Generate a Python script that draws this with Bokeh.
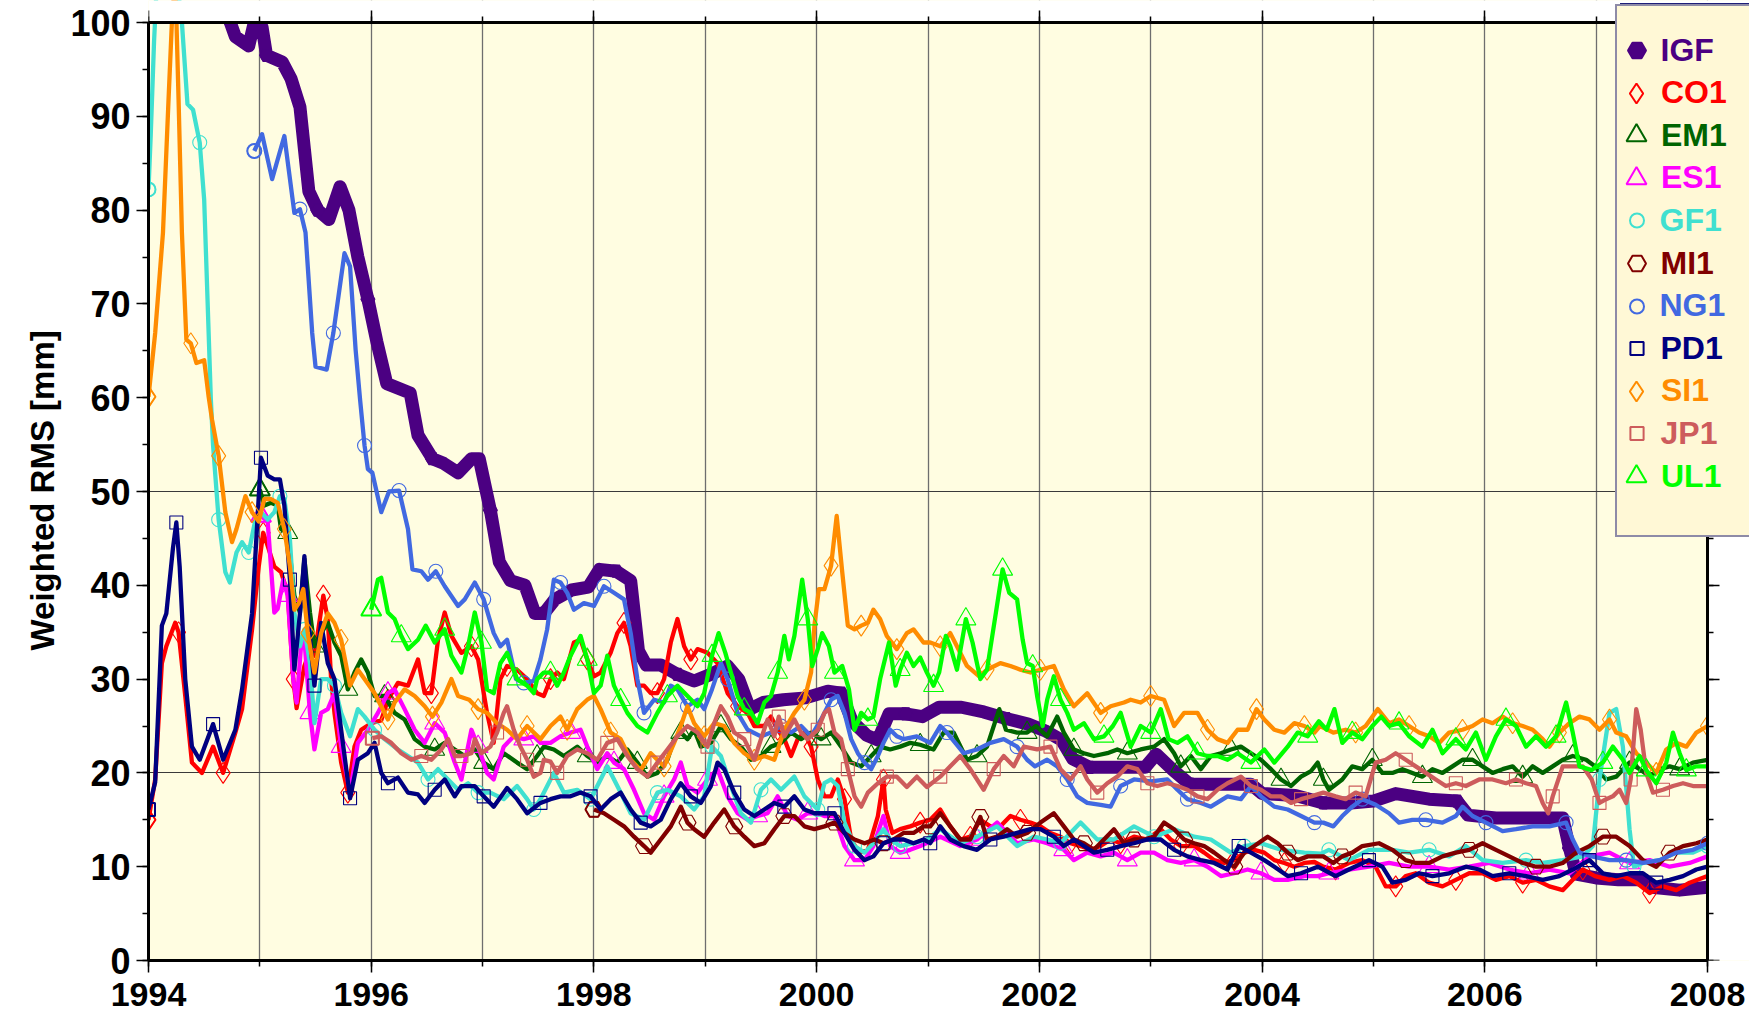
from bokeh.plotting import figure
from bokeh.models import (Legend, LegendItem, LinearAxis, SingleIntervalTicker,
                          FixedTicker, Range1d, Title)
from bokeh.embed import file_html
from bokeh.resources import INLINE

# ---------------- data (year, weighted RMS in mm) ----------------
IGF = [(1994.72, 100.5), (1994.78, 98.5), (1994.90, 97.5), (1994.96, 100.5), (1995.02, 99.5),
       (1995.06, 96.5), (1995.20, 95.8), (1995.28, 94.0), (1995.36, 91.0), (1995.44, 82.0),
       (1995.52, 80.0), (1995.62, 79.0), (1995.72, 82.5), (1995.80, 80.0), (1995.88, 75.0),
       (1995.97, 70.5), (1996.05, 66.0), (1996.14, 61.5), (1996.35, 60.5), (1996.42, 56.0),
       (1996.55, 53.5), (1996.65, 53.0), (1996.78, 52.0), (1996.90, 53.5), (1996.97, 53.5),
       (1997.07, 48.0), (1997.15, 42.5), (1997.25, 40.5), (1997.38, 40.0), (1997.47, 37.0),
       (1997.55, 37.0), (1997.65, 38.5), (1997.80, 39.5), (1997.95, 39.8), (1998.05, 41.7),
       (1998.20, 41.5), (1998.33, 40.5), (1998.40, 33.0), (1998.47, 31.5), (1998.60, 31.5),
       (1998.75, 30.5), (1998.90, 29.8), (1999.05, 30.5), (1999.20, 31.4), (1999.30, 30.0),
       (1999.40, 26.8), (1999.52, 27.5), (1999.70, 27.8), (1999.90, 28.0), (2000.10, 28.7),
       (2000.22, 28.5), (2000.32, 25.5), (2000.45, 24.0), (2000.55, 23.5), (2000.65, 26.3),
       (2000.80, 26.3), (2000.95, 26.0), (2001.10, 27.0), (2001.30, 27.0), (2001.50, 26.5),
       (2001.70, 25.8), (2001.90, 25.2), (2002.05, 24.5), (2002.20, 23.5), (2002.30, 21.5),
       (2002.45, 20.6), (2002.70, 20.6), (2002.95, 20.6), (2003.05, 22.0), (2003.20, 20.3),
       (2003.35, 18.8), (2003.60, 18.8), (2003.90, 18.8), (2004.00, 17.8), (2004.30, 17.6),
       (2004.55, 16.8), (2004.80, 16.8), (2005.00, 17.0), (2005.20, 17.8), (2005.50, 17.2),
       (2005.75, 17.0), (2005.85, 15.5), (2006.10, 15.2), (2006.40, 15.2), (2006.70, 15.2),
       (2006.76, 12.0), (2006.82, 9.2), (2007.00, 8.8), (2007.20, 8.6), (2007.40, 8.6),
       (2007.50, 7.8), (2007.75, 7.5), (2008.00, 7.8)]

CO1 = [(1994.00, 15.0), (1994.06, 19.3), (1994.12, 31.7), (1994.16, 33.5), (1994.24, 36.0),
       (1994.27, 35.0), (1994.33, 28.2), (1994.39, 21.1), (1994.48, 20.0), (1994.58, 22.8),
       (1994.67, 20.0), (1994.78, 24.3), (1994.84, 26.8), (1994.93, 35.3), (1994.99, 42.0),
       (1995.03, 45.6), (1995.07, 44.2), (1995.13, 42.0), (1995.19, 41.4), (1995.25, 39.2),
       (1995.30, 30.0), (1995.33, 26.9), (1995.40, 31.4), (1995.45, 33.0), (1995.49, 32.5),
       (1995.57, 38.9), (1995.61, 36.4), (1995.64, 30.0), (1995.67, 26.4), (1995.73, 21.1),
       (1995.79, 17.9), (1995.85, 22.8), (1995.91, 24.6), (1996.00, 25.3), (1996.09, 25.6),
       (1996.15, 27.8), (1996.24, 29.6), (1996.33, 29.3), (1996.42, 32.1), (1996.48, 28.5),
       (1996.54, 28.5), (1996.60, 34.2), (1996.66, 37.1), (1996.72, 34.6), (1996.81, 32.8),
       (1996.90, 33.5), (1996.96, 32.1), (1997.04, 26.4), (1997.10, 23.2), (1997.16, 30.0),
       (1997.22, 31.4), (1997.31, 31.0), (1997.40, 30.0), (1997.49, 28.5), (1997.55, 28.2),
       (1997.61, 30.0), (1997.67, 30.7), (1997.73, 30.0), (1997.82, 33.9), (1997.88, 34.2),
       (1997.94, 32.1), (1998.00, 30.3), (1998.06, 30.7), (1998.15, 32.8), (1998.21, 34.9),
       (1998.27, 36.0), (1998.33, 33.5), (1998.39, 29.3), (1998.45, 29.3), (1998.51, 28.5),
       (1998.57, 28.5), (1998.63, 30.0), (1998.69, 33.9), (1998.75, 36.4), (1998.81, 33.5),
       (1998.87, 32.1), (1998.93, 33.2), (1999.02, 32.8), (1999.11, 31.7), (1999.20, 28.5),
       (1999.29, 27.1), (1999.38, 26.4), (1999.44, 25.0), (1999.53, 25.0), (1999.59, 26.0),
       (1999.65, 24.6), (1999.71, 23.6), (1999.77, 21.8), (1999.83, 23.6), (1999.89, 24.3),
       (1999.95, 22.8), (2000.01, 19.3), (2000.07, 17.5), (2000.13, 17.5), (2000.19, 19.3),
       (2000.25, 17.2), (2000.31, 12.9), (2000.38, 11.5), (2000.46, 11.8), (2000.55, 15.4),
       (2000.60, 19.3), (2000.62, 16.1), (2000.68, 13.6), (2000.75, 14.0), (2000.84, 14.3),
       (2000.93, 14.7), (2001.02, 15.0), (2001.11, 16.1), (2001.20, 14.3), (2001.29, 12.9),
       (2001.38, 13.2), (2001.47, 15.0), (2001.56, 14.3), (2001.65, 14.3), (2001.74, 15.4),
       (2001.83, 15.0), (2001.92, 14.7), (2002.01, 14.3), (2002.10, 13.6), (2002.19, 13.2),
       (2002.28, 12.5), (2002.37, 12.2), (2002.46, 11.8), (2002.55, 12.2), (2002.64, 12.9),
       (2002.73, 12.5), (2002.85, 13.2), (2002.97, 12.9), (2003.09, 14.0), (2003.18, 12.9),
       (2003.27, 12.2), (2003.39, 12.2), (2003.48, 11.5), (2003.57, 10.7), (2003.66, 10.4),
       (2003.75, 10.7), (2003.84, 11.5), (2003.93, 11.8), (2004.02, 11.5), (2004.11, 10.7),
       (2004.20, 10.4), (2004.29, 10.0), (2004.38, 10.4), (2004.47, 10.5), (2004.55, 10.0),
       (2004.66, 9.7), (2004.78, 10.4), (2004.90, 10.7), (2005.02, 10.0), (2005.11, 7.9),
       (2005.20, 7.9), (2005.29, 9.0), (2005.38, 9.3), (2005.50, 8.3), (2005.62, 7.9),
       (2005.74, 8.6), (2005.86, 9.3), (2005.98, 9.3), (2006.10, 8.6), (2006.22, 9.0),
       (2006.34, 8.3), (2006.46, 8.6), (2006.58, 7.9), (2006.70, 7.5), (2006.79, 8.6),
       (2006.88, 9.7), (2006.99, 9.0), (2007.12, 8.6), (2007.24, 9.0), (2007.36, 8.3),
       (2007.48, 7.2), (2007.60, 7.9), (2007.72, 7.5), (2007.84, 8.3), (2008.00, 9.0)]

EM1 = [(1995.00, 50.2), (1995.04, 48.5), (1995.10, 48.8), (1995.16, 48.5), (1995.19, 46.0),
       (1995.25, 45.6), (1995.31, 38.9), (1995.36, 37.1), (1995.40, 42.8), (1995.45, 37.1),
       (1995.49, 33.5), (1995.55, 34.9), (1995.61, 36.0), (1995.67, 33.9), (1995.73, 32.5),
       (1995.79, 28.9), (1995.85, 30.7), (1995.91, 32.1), (1995.97, 30.7), (1996.03, 28.2),
       (1996.12, 28.2), (1996.21, 26.4), (1996.30, 25.7), (1996.39, 23.6), (1996.48, 22.8),
       (1996.57, 22.5), (1996.66, 23.2), (1996.75, 22.5), (1996.84, 21.8), (1996.93, 22.5),
       (1997.01, 21.1), (1997.10, 20.4), (1997.19, 22.1), (1997.31, 21.1), (1997.40, 20.4),
       (1997.49, 21.8), (1997.55, 22.8), (1997.64, 22.5), (1997.73, 21.8), (1997.85, 22.8),
       (1997.94, 21.8), (1998.03, 21.1), (1998.12, 21.8), (1998.21, 21.1), (1998.30, 22.5),
       (1998.39, 21.1), (1998.48, 19.6), (1998.57, 20.0), (1998.66, 21.4), (1998.72, 23.6),
       (1998.78, 24.3), (1998.84, 23.6), (1998.90, 24.6), (1998.96, 22.8), (1999.05, 23.2),
       (1999.14, 25.0), (1999.23, 23.6), (1999.32, 22.8), (1999.41, 21.4), (1999.50, 21.8),
       (1999.59, 22.8), (1999.68, 23.2), (1999.77, 24.3), (1999.86, 23.6), (1999.95, 24.3),
       (2000.04, 23.6), (2000.13, 24.3), (2000.22, 22.8), (2000.31, 21.1), (2000.40, 20.7),
       (2000.49, 21.8), (2000.57, 22.8), (2000.66, 22.5), (2000.75, 22.8), (2000.84, 23.2),
       (2000.93, 23.0), (2001.05, 22.5), (2001.14, 24.3), (2001.23, 24.3), (2001.35, 21.4),
       (2001.44, 21.8), (2001.53, 22.8), (2001.64, 26.8), (2001.70, 24.6), (2001.80, 24.3),
       (2001.89, 24.3), (2001.97, 25.0), (2002.07, 23.9), (2002.16, 26.0), (2002.22, 24.3),
       (2002.31, 22.5), (2002.40, 22.1), (2002.49, 21.8), (2002.61, 22.1), (2002.70, 22.5),
       (2002.79, 22.1), (2002.91, 22.5), (2003.03, 22.8), (2003.12, 23.6), (2003.21, 22.1),
       (2003.27, 20.7), (2003.36, 21.8), (2003.45, 20.4), (2003.54, 21.8), (2003.63, 22.1),
       (2003.72, 22.5), (2003.81, 22.8), (2003.90, 22.1), (2003.99, 21.4), (2004.08, 20.4),
       (2004.17, 19.3), (2004.26, 18.6), (2004.35, 19.6), (2004.44, 20.2), (2004.50, 21.1),
       (2004.55, 19.3), (2004.60, 18.2), (2004.72, 19.3), (2004.81, 20.7), (2004.90, 20.4),
       (2004.99, 21.4), (2005.08, 20.0), (2005.17, 20.0), (2005.26, 20.4), (2005.35, 20.0),
       (2005.44, 19.6), (2005.53, 20.4), (2005.62, 20.0), (2005.71, 20.7), (2005.80, 21.4),
       (2005.89, 21.4), (2005.98, 20.7), (2006.07, 20.0), (2006.16, 20.4), (2006.25, 20.7),
       (2006.34, 19.6), (2006.43, 20.7), (2006.52, 20.0), (2006.61, 20.7), (2006.70, 21.4),
       (2006.79, 21.8), (2006.91, 21.4), (2006.99, 20.7), (2007.09, 19.3), (2007.18, 19.6),
       (2007.30, 21.1), (2007.39, 20.4), (2007.48, 19.6), (2007.57, 20.4), (2007.66, 20.7),
       (2007.75, 20.4), (2007.87, 21.1), (2008.00, 21.4)]

ES1 = [(1995.01, 47.4), (1995.07, 46.8), (1995.13, 37.1), (1995.16, 37.5), (1995.21, 40.6),
       (1995.25, 38.9), (1995.30, 30.0), (1995.33, 27.5), (1995.37, 33.5), (1995.40, 34.2),
       (1995.45, 26.4), (1995.49, 22.5), (1995.55, 26.4), (1995.61, 26.8), (1995.67, 28.5),
       (1995.73, 22.8), (1995.81, 17.9), (1995.88, 23.2), (1995.97, 24.6), (1996.06, 26.4),
       (1996.15, 28.5), (1996.21, 28.9), (1996.30, 26.8), (1996.39, 24.6), (1996.48, 23.2),
       (1996.57, 25.3), (1996.66, 24.3), (1996.75, 21.1), (1996.81, 19.3), (1996.90, 24.6),
       (1996.96, 22.8), (1997.04, 20.0), (1997.10, 19.3), (1997.19, 22.8), (1997.28, 23.9),
       (1997.37, 23.6), (1997.46, 23.9), (1997.52, 23.2), (1997.61, 23.2), (1997.70, 23.9),
       (1997.79, 24.3), (1997.88, 24.6), (1997.94, 22.8), (1998.03, 20.4), (1998.12, 22.1),
       (1998.18, 21.1), (1998.27, 20.4), (1998.36, 18.2), (1998.45, 15.7), (1998.54, 15.0),
       (1998.63, 17.5), (1998.72, 19.3), (1998.78, 21.1), (1998.84, 18.6), (1998.93, 17.9),
       (1999.02, 19.3), (1999.11, 20.4), (1999.20, 17.5), (1999.29, 15.7), (1999.38, 15.0),
       (1999.47, 15.4), (1999.56, 15.7), (1999.65, 17.5), (1999.74, 15.4), (1999.83, 15.0),
       (1999.92, 15.7), (2000.01, 15.7), (2000.07, 15.4), (2000.16, 15.4), (2000.25, 12.2),
       (2000.34, 10.7), (2000.43, 10.7), (2000.51, 12.2), (2000.60, 15.4), (2000.66, 12.2),
       (2000.75, 11.5), (2000.84, 11.8), (2000.93, 12.2), (2001.11, 13.2), (2001.29, 12.2),
       (2001.44, 12.9), (2001.62, 14.7), (2001.80, 12.5), (2001.95, 12.9), (2002.07, 12.5),
       (2002.22, 11.8), (2002.31, 10.7), (2002.43, 11.5), (2002.55, 11.1), (2002.67, 11.5),
       (2002.79, 10.7), (2002.91, 11.5), (2003.03, 11.5), (2003.15, 10.7), (2003.27, 10.4),
       (2003.39, 10.7), (2003.51, 10.0), (2003.63, 9.0), (2003.75, 9.3), (2003.87, 9.7),
       (2003.99, 9.3), (2004.11, 8.6), (2004.23, 8.6), (2004.38, 9.0), (2004.50, 9.0),
       (2004.60, 9.3), (2004.78, 9.7), (2004.96, 10.0), (2005.14, 10.4), (2005.32, 10.0),
       (2005.50, 10.0), (2005.68, 9.7), (2005.86, 10.0), (2006.04, 10.4), (2006.22, 9.7),
       (2006.40, 9.3), (2006.58, 9.7), (2006.76, 9.3), (2006.94, 11.1), (2007.12, 11.5),
       (2007.30, 10.4), (2007.48, 10.7), (2007.66, 10.0), (2007.84, 10.4), (2008.00, 11.1)]

GF1 = [(1994.00, 82.2), (1994.02, 88.0), (1994.05, 98.0), (1994.07, 103.0), (1994.12, 106.0),
       (1994.20, 106.0), (1994.27, 103.0), (1994.30, 100.0), (1994.35, 91.3), (1994.40, 90.7),
       (1994.46, 87.2), (1994.50, 81.1), (1994.53, 70.5), (1994.56, 59.8), (1994.58, 54.9),
       (1994.63, 47.0), (1994.69, 41.4), (1994.73, 40.3), (1994.79, 43.5), (1994.84, 44.6),
       (1994.90, 43.5), (1994.96, 47.0), (1995.01, 47.8), (1995.07, 47.0), (1995.13, 47.8),
       (1995.18, 49.5), (1995.22, 49.2), (1995.27, 44.9), (1995.31, 37.1), (1995.36, 33.5),
       (1995.40, 35.3), (1995.45, 31.7), (1995.49, 25.3), (1995.55, 30.0), (1995.61, 30.0),
       (1995.67, 29.3), (1995.73, 26.4), (1995.81, 23.9), (1995.88, 26.8), (1995.94, 26.0),
       (1996.03, 24.6), (1996.12, 23.6), (1996.24, 22.5), (1996.33, 21.8), (1996.42, 21.1),
       (1996.51, 19.3), (1996.60, 20.4), (1996.69, 19.3), (1996.78, 18.2), (1996.87, 18.9),
       (1996.96, 17.9), (1997.07, 17.9), (1997.19, 17.2), (1997.31, 18.6), (1997.40, 17.2),
       (1997.46, 16.1), (1997.52, 17.2), (1997.64, 20.0), (1997.73, 17.9), (1997.85, 18.2),
       (1997.97, 17.2), (1998.12, 20.7), (1998.24, 17.9), (1998.33, 15.7), (1998.45, 15.0),
       (1998.57, 17.9), (1998.66, 18.2), (1998.78, 17.5), (1998.90, 16.1), (1998.99, 17.5),
       (1999.06, 22.8), (1999.14, 21.8), (1999.23, 18.6), (1999.32, 15.7), (1999.41, 14.7),
       (1999.50, 18.2), (1999.59, 19.3), (1999.68, 18.2), (1999.80, 19.6), (1999.89, 17.5),
       (2000.01, 16.1), (2000.07, 18.9), (2000.13, 19.3), (2000.19, 18.6), (2000.25, 14.7),
       (2000.34, 12.2), (2000.43, 11.5), (2000.51, 12.5), (2000.60, 14.0), (2000.66, 12.9),
       (2000.75, 12.2), (2000.87, 12.5), (2000.99, 12.9), (2001.11, 14.0), (2001.29, 12.5),
       (2001.44, 13.2), (2001.62, 14.3), (2001.80, 12.2), (2001.95, 13.2), (2002.07, 12.9),
       (2002.19, 12.5), (2002.37, 14.7), (2002.52, 12.9), (2002.67, 12.9), (2002.85, 14.3),
       (2003.03, 13.2), (2003.21, 14.0), (2003.39, 13.2), (2003.54, 12.9), (2003.72, 11.5),
       (2003.84, 12.2), (2003.99, 12.5), (2004.17, 11.8), (2004.38, 11.5), (2004.53, 11.4),
       (2004.60, 11.8), (2004.78, 10.7), (2004.96, 11.8), (2005.17, 11.8), (2005.32, 11.5),
       (2005.50, 11.8), (2005.68, 11.1), (2005.83, 12.2), (2005.98, 10.7), (2006.16, 10.4),
       (2006.37, 10.7), (2006.52, 10.4), (2006.70, 10.7), (2006.88, 11.1), (2006.97, 12.2),
       (2007.03, 19.3), (2007.12, 26.4), (2007.18, 26.8), (2007.24, 22.8), (2007.30, 14.0),
       (2007.34, 10.0), (2007.42, 10.4), (2007.57, 10.7), (2007.72, 11.5), (2007.87, 11.5),
       (2008.00, 12.2)]

MI1 = [(1998.00, 16.1), (1998.09, 15.7), (1998.18, 15.0), (1998.27, 14.3), (1998.36, 13.2),
       (1998.45, 12.2), (1998.51, 11.5), (1998.60, 12.9), (1998.69, 14.3), (1998.78, 16.4),
       (1998.84, 14.7), (1998.90, 14.0), (1998.99, 13.2), (1999.08, 14.7), (1999.17, 16.1),
       (1999.26, 14.3), (1999.35, 13.2), (1999.44, 12.2), (1999.53, 12.5), (1999.62, 14.0),
       (1999.71, 15.4), (1999.80, 15.4), (1999.89, 14.3), (1999.98, 14.0), (2000.07, 14.3),
       (2000.16, 14.7), (2000.25, 13.6), (2000.34, 12.9), (2000.43, 12.5), (2000.52, 12.9),
       (2000.60, 12.5), (2000.69, 12.9), (2000.78, 13.6), (2000.87, 13.6), (2000.96, 14.3),
       (2001.02, 14.3), (2001.11, 15.7), (2001.20, 14.3), (2001.29, 12.9), (2001.38, 12.9),
       (2001.47, 15.3), (2001.53, 12.9), (2001.62, 13.2), (2001.71, 14.0), (2001.80, 13.2),
       (2001.89, 13.6), (2002.01, 14.7), (2002.13, 15.7), (2002.22, 14.3), (2002.31, 12.9),
       (2002.40, 12.5), (2002.49, 11.8), (2002.58, 12.9), (2002.67, 14.0), (2002.76, 12.5),
       (2002.85, 12.9), (2002.94, 12.9), (2003.03, 13.2), (2003.12, 14.7), (2003.21, 14.0),
       (2003.30, 12.9), (2003.39, 12.5), (2003.48, 12.2), (2003.57, 11.5), (2003.66, 10.7),
       (2003.75, 10.0), (2003.84, 11.5), (2003.93, 12.2), (2004.05, 13.2), (2004.14, 12.5),
       (2004.23, 11.5), (2004.32, 10.7), (2004.41, 11.1), (2004.55, 11.1), (2004.64, 10.4),
       (2004.72, 11.1), (2004.81, 11.5), (2004.90, 12.2), (2005.05, 12.5), (2005.17, 11.8),
       (2005.29, 10.7), (2005.38, 10.4), (2005.50, 10.4), (2005.62, 11.1), (2005.74, 11.5),
       (2005.86, 11.8), (2005.98, 12.5), (2006.10, 11.8), (2006.22, 11.1), (2006.34, 10.4),
       (2006.46, 10.0), (2006.58, 10.0), (2006.70, 10.4), (2006.82, 11.5), (2006.94, 12.2),
       (2007.06, 13.2), (2007.18, 13.2), (2007.30, 12.2), (2007.42, 10.7), (2007.54, 10.0),
       (2007.66, 11.5), (2007.78, 12.2), (2007.90, 12.5), (2008.00, 12.9)]

NG1 = [(1994.95, 86.3), (1995.02, 88.1), (1995.11, 83.3), (1995.22, 87.9), (1995.31, 79.7),
       (1995.36, 80.1), (1995.41, 77.6), (1995.47, 66.9), (1995.50, 63.3), (1995.60, 63.0),
       (1995.66, 66.9), (1995.76, 75.4), (1995.81, 74.0), (1995.86, 65.1), (1995.90, 59.8),
       (1995.94, 54.9), (1995.97, 52.4), (1996.01, 52.0), (1996.09, 47.8), (1996.16, 50.0),
       (1996.25, 50.1), (1996.33, 46.0), (1996.37, 41.7), (1996.45, 41.5), (1996.51, 40.6),
       (1996.58, 41.5), (1996.66, 39.9), (1996.78, 37.8), (1996.84, 38.5), (1996.93, 40.3),
       (1997.01, 38.5), (1997.10, 34.9), (1997.16, 33.5), (1997.22, 34.2), (1997.30, 30.0),
       (1997.37, 29.6), (1997.46, 29.8), (1997.52, 32.1), (1997.58, 35.3), (1997.64, 40.6),
       (1997.70, 40.3), (1997.76, 39.2), (1997.82, 37.4), (1997.91, 38.1), (1998.00, 37.8),
       (1998.09, 39.9), (1998.18, 39.2), (1998.27, 38.5), (1998.33, 34.9), (1998.39, 30.0),
       (1998.45, 26.4), (1998.54, 27.8), (1998.63, 27.5), (1998.69, 29.3), (1998.75, 28.9),
       (1998.84, 27.1), (1998.93, 27.8), (1998.99, 26.8), (1999.06, 28.9), (1999.14, 31.7),
       (1999.20, 30.0), (1999.29, 26.4), (1999.38, 24.6), (1999.50, 23.9), (1999.59, 24.3),
       (1999.68, 25.0), (1999.77, 24.3), (1999.86, 25.0), (1999.95, 23.9), (2000.04, 25.7),
       (2000.13, 27.8), (2000.19, 28.2), (2000.25, 26.4), (2000.31, 23.6), (2000.37, 22.1),
       (2000.43, 21.1), (2000.49, 20.4), (2000.55, 21.8), (2000.60, 23.2), (2000.66, 24.6),
       (2000.72, 23.9), (2000.78, 23.6), (2000.90, 23.9), (2001.02, 23.2), (2001.11, 25.0),
       (2001.17, 24.3), (2001.32, 22.1), (2001.44, 22.5), (2001.56, 23.2), (2001.68, 23.6),
       (2001.80, 22.8), (2001.89, 21.4), (2001.96, 20.7), (2002.07, 21.4), (2002.16, 20.7),
       (2002.25, 19.3), (2002.34, 17.5), (2002.43, 16.8), (2002.55, 16.6), (2002.64, 16.4),
       (2002.73, 18.6), (2002.85, 19.3), (2003.00, 19.1), (2003.15, 19.3), (2003.24, 18.2),
       (2003.33, 17.2), (2003.45, 16.8), (2003.54, 16.4), (2003.69, 17.5), (2003.81, 17.2),
       (2003.90, 18.6), (2003.99, 17.5), (2004.11, 16.4), (2004.23, 16.1), (2004.35, 15.4),
       (2004.47, 14.7), (2004.55, 14.7), (2004.64, 14.3), (2004.72, 15.4), (2004.81, 16.4),
       (2004.90, 17.2), (2005.02, 16.6), (2005.14, 15.7), (2005.23, 14.7), (2005.35, 15.0),
       (2005.47, 15.0), (2005.62, 14.7), (2005.74, 15.4), (2005.80, 16.4), (2005.89, 15.4),
       (2006.01, 14.7), (2006.16, 13.8), (2006.28, 14.0), (2006.43, 14.3), (2006.58, 14.3),
       (2006.73, 14.7), (2006.79, 12.9), (2006.85, 11.5), (2006.96, 11.1), (2007.12, 10.7),
       (2007.27, 10.7), (2007.42, 10.4), (2007.57, 10.7), (2007.72, 11.5), (2007.87, 11.8),
       (2008.00, 12.5)]

PD1 = [(1994.00, 16.1), (1994.06, 19.0), (1994.12, 35.7), (1994.16, 37.0), (1994.22, 44.0),
       (1994.25, 46.7), (1994.28, 42.0), (1994.33, 30.0), (1994.39, 22.8), (1994.46, 21.4),
       (1994.58, 25.2), (1994.67, 21.4), (1994.78, 24.6), (1994.84, 28.9), (1994.93, 37.0),
       (1995.01, 53.6), (1995.07, 51.7), (1995.13, 51.3), (1995.18, 51.3), (1995.22, 48.5),
       (1995.27, 40.6), (1995.31, 31.0), (1995.36, 37.0), (1995.40, 43.1), (1995.43, 37.0),
       (1995.49, 29.3), (1995.55, 36.0), (1995.61, 31.7), (1995.67, 30.0), (1995.73, 24.6),
       (1995.81, 17.3), (1995.88, 21.4), (1995.97, 22.1), (1996.03, 23.2), (1996.09, 20.0),
       (1996.15, 18.9), (1996.24, 19.5), (1996.33, 17.9), (1996.42, 17.7), (1996.48, 16.8),
       (1996.57, 18.2), (1996.66, 19.3), (1996.75, 17.5), (1996.81, 18.6), (1996.93, 18.6),
       (1997.01, 17.5), (1997.10, 16.4), (1997.22, 18.4), (1997.31, 17.2), (1997.40, 15.7),
       (1997.52, 16.8), (1997.61, 17.2), (1997.70, 17.5), (1997.79, 17.5), (1997.88, 17.9),
       (1997.97, 17.5), (1998.06, 16.1), (1998.15, 17.2), (1998.24, 17.9), (1998.33, 16.1),
       (1998.42, 14.7), (1998.51, 14.3), (1998.60, 15.0), (1998.69, 17.2), (1998.78, 18.9),
       (1998.87, 17.5), (1998.96, 16.8), (1999.05, 18.6), (1999.11, 21.1), (1999.17, 20.4),
       (1999.26, 17.9), (1999.35, 16.1), (1999.44, 15.4), (1999.53, 16.1), (1999.62, 16.8),
       (1999.71, 16.4), (1999.80, 17.5), (1999.89, 16.1), (1999.98, 15.7), (2000.07, 15.7),
       (2000.16, 15.7), (2000.25, 13.6), (2000.34, 11.8), (2000.43, 10.7), (2000.51, 11.1),
       (2000.60, 12.5), (2000.69, 12.9), (2000.78, 12.9), (2000.87, 12.5), (2000.96, 12.9),
       (2001.02, 12.5), (2001.11, 14.3), (2001.20, 12.9), (2001.32, 12.2), (2001.44, 11.8),
       (2001.56, 12.9), (2001.68, 13.2), (2001.80, 13.6), (2001.92, 14.0), (2002.01, 14.0),
       (2002.13, 13.2), (2002.22, 12.2), (2002.31, 12.9), (2002.40, 12.2), (2002.49, 11.5),
       (2002.61, 11.8), (2002.73, 12.2), (2002.85, 12.5), (2002.97, 12.9), (2003.09, 12.9),
       (2003.21, 11.8), (2003.33, 11.1), (2003.45, 10.7), (2003.57, 10.4), (2003.69, 9.7),
       (2003.79, 12.2), (2003.90, 11.5), (2004.02, 10.7), (2004.11, 10.0), (2004.23, 9.0),
       (2004.35, 9.3), (2004.50, 10.0), (2004.55, 9.7), (2004.66, 9.0), (2004.78, 9.7),
       (2004.96, 10.7), (2005.08, 10.0), (2005.17, 8.3), (2005.29, 8.6), (2005.41, 9.3),
       (2005.53, 9.0), (2005.68, 9.3), (2005.83, 10.0), (2005.95, 9.7), (2006.07, 9.0),
       (2006.22, 9.3), (2006.37, 9.0), (2006.52, 8.6), (2006.67, 9.0), (2006.79, 9.7),
       (2006.94, 10.7), (2007.06, 9.3), (2007.18, 9.0), (2007.30, 9.3), (2007.42, 9.3),
       (2007.54, 8.3), (2007.66, 8.6), (2007.78, 9.0), (2007.90, 9.7), (2008.00, 10.0)]

SI1 = [(1994.00, 60.1), (1994.06, 66.9), (1994.13, 77.6), (1994.18, 91.8), (1994.21, 100.0),
       (1994.235, 104.0), (1994.25, 100.5), (1994.27, 91.8), (1994.30, 77.6), (1994.34, 66.2),
       (1994.38, 65.8), (1994.43, 63.7), (1994.50, 64.0), (1994.54, 60.1), (1994.57, 57.7),
       (1994.63, 53.8), (1994.69, 47.8), (1994.75, 44.6), (1994.79, 46.0), (1994.87, 49.5),
       (1994.93, 47.8), (1994.99, 46.8), (1995.04, 49.2), (1995.10, 49.2), (1995.16, 48.8),
       (1995.22, 46.0), (1995.27, 42.0), (1995.31, 37.4), (1995.35, 38.1), (1995.39, 39.6),
       (1995.43, 34.9), (1995.49, 30.7), (1995.55, 34.9), (1995.61, 37.0), (1995.67, 36.0),
       (1995.73, 34.2), (1995.81, 29.3), (1995.88, 31.0), (1995.94, 30.0), (1996.03, 28.5),
       (1996.15, 25.7), (1996.21, 27.5), (1996.30, 28.9), (1996.39, 28.2), (1996.48, 27.1),
       (1996.55, 26.0), (1996.63, 27.5), (1996.72, 30.0), (1996.78, 28.2), (1996.88, 27.8),
       (1996.96, 26.8), (1997.04, 26.4), (1997.13, 25.3), (1997.22, 24.6), (1997.31, 23.6),
       (1997.40, 25.0), (1997.46, 24.3), (1997.52, 23.6), (1997.61, 25.0), (1997.70, 26.0),
       (1997.76, 24.6), (1997.85, 26.8), (1997.94, 27.8), (1998.00, 28.2), (1998.06, 26.8),
       (1998.15, 24.3), (1998.24, 23.6), (1998.33, 21.4), (1998.42, 20.3), (1998.51, 22.1),
       (1998.63, 20.7), (1998.72, 23.2), (1998.78, 25.0), (1998.84, 27.1), (1998.90, 25.3),
       (1998.99, 23.9), (1999.08, 25.3), (1999.17, 25.0), (1999.26, 23.2), (1999.35, 22.1),
       (1999.44, 21.4), (1999.53, 21.8), (1999.62, 21.4), (1999.71, 24.6), (1999.80, 26.4),
       (1999.89, 27.8), (1999.95, 30.7), (1999.98, 35.7), (2000.02, 39.6), (2000.07, 39.6),
       (2000.13, 42.1), (2000.18, 47.4), (2000.23, 41.4), (2000.28, 35.7), (2000.34, 35.3),
       (2000.40, 35.7), (2000.46, 36.0), (2000.51, 37.4), (2000.57, 36.4), (2000.63, 34.6),
       (2000.72, 33.2), (2000.81, 34.9), (2000.87, 35.3), (2000.96, 33.9), (2001.02, 33.9),
       (2001.11, 33.5), (2001.20, 34.9), (2001.26, 33.5), (2001.35, 31.4), (2001.46, 30.3),
       (2001.53, 31.0), (2001.65, 31.7), (2001.74, 31.4), (2001.83, 31.0), (2001.92, 30.7),
       (2002.01, 31.0), (2002.13, 31.4), (2002.22, 28.9), (2002.31, 27.1), (2002.43, 28.5),
       (2002.55, 26.4), (2002.64, 27.1), (2002.76, 27.5), (2002.82, 27.8), (2002.91, 27.5),
       (2003.00, 28.2), (2003.12, 27.8), (2003.21, 25.0), (2003.30, 26.4), (2003.42, 26.4),
       (2003.51, 24.6), (2003.60, 23.6), (2003.69, 23.2), (2003.78, 24.6), (2003.87, 24.6),
       (2003.95, 26.8), (2004.02, 25.7), (2004.11, 24.6), (2004.20, 24.3), (2004.29, 25.3),
       (2004.38, 25.0), (2004.47, 24.3), (2004.52, 25.0), (2004.64, 24.3), (2004.75, 24.6),
       (2004.84, 24.3), (2004.93, 25.0), (2005.04, 26.8), (2005.14, 25.3), (2005.23, 25.7),
       (2005.32, 25.0), (2005.41, 24.3), (2005.50, 23.9), (2005.59, 23.2), (2005.68, 24.3),
       (2005.80, 24.6), (2005.89, 25.0), (2005.98, 25.7), (2006.07, 25.3), (2006.16, 26.0),
       (2006.25, 25.3), (2006.34, 25.0), (2006.43, 24.6), (2006.52, 23.6), (2006.58, 22.8),
       (2006.67, 24.3), (2006.76, 25.3), (2006.85, 26.0), (2006.94, 25.7), (2007.03, 24.6),
       (2007.12, 25.7), (2007.18, 24.3), (2007.27, 23.9), (2007.36, 22.1), (2007.45, 21.1),
       (2007.54, 20.0), (2007.63, 22.5), (2007.72, 23.2), (2007.81, 22.8), (2007.90, 24.3),
       (2008.00, 25.0)]

JP1 = [(1996.01, 23.7), (1996.09, 23.9), (1996.18, 23.2), (1996.27, 22.1), (1996.36, 21.4),
       (1996.45, 21.8), (1996.54, 21.4), (1996.63, 22.5), (1996.69, 23.6), (1996.75, 21.8),
       (1996.81, 21.8), (1996.90, 22.1), (1996.93, 23.6), (1996.99, 22.1), (1997.07, 22.8),
       (1997.13, 24.3), (1997.19, 26.4), (1997.22, 27.1), (1997.28, 24.6), (1997.34, 22.8),
       (1997.40, 21.4), (1997.46, 19.6), (1997.52, 20.0), (1997.55, 21.4), (1997.61, 21.2),
       (1997.67, 20.0), (1997.76, 21.8), (1997.85, 22.5), (1997.94, 22.1), (1998.03, 21.4),
       (1998.12, 23.2), (1998.21, 23.6), (1998.30, 21.8), (1998.39, 20.4), (1998.48, 19.6),
       (1998.57, 21.1), (1998.66, 22.5), (1998.75, 23.9), (1998.84, 25.0), (1998.93, 24.3),
       (1999.02, 22.8), (1999.08, 25.3), (1999.14, 27.1), (1999.20, 26.0), (1999.26, 24.3),
       (1999.35, 23.6), (1999.44, 21.4), (1999.50, 23.6), (1999.56, 25.7), (1999.62, 23.9),
       (1999.66, 26.0), (1999.71, 23.9), (1999.80, 25.7), (1999.86, 24.3), (1999.92, 23.6),
       (2000.01, 24.6), (2000.07, 26.4), (2000.11, 26.8), (2000.16, 24.3), (2000.22, 23.6),
       (2000.28, 20.4), (2000.34, 17.5), (2000.40, 16.4), (2000.46, 17.9), (2000.55, 18.9),
       (2000.63, 19.6), (2000.72, 19.6), (2000.81, 18.5), (2000.90, 19.6), (2000.99, 18.5),
       (2001.11, 19.6), (2001.20, 20.7), (2001.29, 21.8), (2001.38, 20.4), (2001.50, 18.2),
       (2001.59, 20.4), (2001.68, 21.8), (2001.77, 20.7), (2001.86, 22.8), (2001.98, 22.5),
       (2002.10, 22.8), (2002.19, 20.4), (2002.28, 19.3), (2002.37, 20.7), (2002.43, 19.3),
       (2002.52, 17.9), (2002.61, 18.9), (2002.70, 19.6), (2002.79, 20.7), (2002.88, 20.4),
       (2002.97, 18.9), (2003.06, 18.6), (2003.15, 18.9), (2003.24, 18.6), (2003.33, 18.2),
       (2003.42, 17.5), (2003.51, 17.2), (2003.60, 18.2), (2003.69, 18.9), (2003.81, 19.6),
       (2003.90, 18.6), (2003.99, 18.2), (2004.08, 17.5), (2004.17, 17.5), (2004.26, 16.8),
       (2004.35, 17.2), (2004.44, 17.5), (2004.55, 17.9), (2004.66, 17.5), (2004.75, 17.2),
       (2004.84, 17.9), (2004.93, 17.5), (2005.02, 21.1), (2005.11, 21.4), (2005.20, 22.1),
       (2005.29, 21.4), (2005.38, 20.7), (2005.47, 20.0), (2005.56, 19.3), (2005.65, 18.6),
       (2005.74, 18.9), (2005.83, 18.6), (2005.95, 19.3), (2006.07, 19.3), (2006.19, 18.9),
       (2006.28, 19.3), (2006.37, 18.9), (2006.46, 18.6), (2006.52, 16.8), (2006.57, 15.7),
       (2006.61, 17.5), (2006.70, 20.7), (2006.79, 20.7), (2006.88, 20.7), (2006.96, 19.3),
       (2007.03, 16.8), (2007.09, 17.2), (2007.15, 17.5), (2007.21, 18.2), (2007.27, 16.8),
       (2007.31, 19.3), (2007.36, 26.8), (2007.40, 24.6), (2007.45, 20.0), (2007.51, 17.9),
       (2007.60, 18.2), (2007.69, 18.6), (2007.78, 18.9), (2007.87, 18.6), (2008.00, 18.6)]

UL1 = [(1996.00, 37.4), (1996.06, 40.6), (1996.09, 40.8), (1996.15, 37.1), (1996.21, 36.4),
       (1996.27, 34.6), (1996.33, 33.2), (1996.42, 34.2), (1996.49, 35.7), (1996.57, 33.9),
       (1996.66, 35.3), (1996.72, 32.5), (1996.81, 30.7), (1996.87, 33.5), (1996.93, 37.1),
       (1996.99, 33.9), (1997.04, 28.9), (1997.10, 28.5), (1997.16, 31.7), (1997.22, 32.8),
       (1997.31, 30.0), (1997.40, 29.3), (1997.46, 28.5), (1997.49, 30.0), (1997.55, 30.7),
       (1997.61, 30.7), (1997.67, 29.3), (1997.73, 30.7), (1997.79, 32.5), (1997.88, 34.6),
       (1997.94, 32.1), (1998.00, 28.5), (1998.06, 29.3), (1998.12, 32.5), (1998.18, 29.3),
       (1998.24, 27.8), (1998.30, 26.4), (1998.39, 25.0), (1998.48, 24.3), (1998.57, 26.4),
       (1998.66, 28.2), (1998.75, 29.3), (1998.84, 28.2), (1998.93, 27.1), (1998.99, 28.5),
       (1999.06, 32.5), (1999.12, 34.9), (1999.18, 32.8), (1999.23, 30.7), (1999.29, 28.2),
       (1999.35, 26.8), (1999.41, 26.4), (1999.47, 25.3), (1999.53, 27.5), (1999.59, 28.2),
       (1999.65, 30.7), (1999.71, 34.6), (1999.75, 32.1), (1999.80, 34.6), (1999.87, 40.6),
       (1999.92, 36.4), (1999.96, 31.4), (2000.01, 33.2), (2000.05, 34.9), (2000.11, 33.5),
       (2000.16, 30.7), (2000.23, 31.4), (2000.29, 28.9), (2000.34, 24.6), (2000.40, 26.4),
       (2000.46, 25.7), (2000.51, 26.0), (2000.57, 30.0), (2000.65, 33.9), (2000.71, 29.3),
       (2000.75, 31.0), (2000.81, 32.8), (2000.87, 31.4), (2000.93, 32.3), (2000.99, 30.7),
       (2001.05, 29.3), (2001.10, 30.7), (2001.16, 34.6), (2001.20, 33.5), (2001.26, 31.0),
       (2001.34, 36.4), (2001.40, 33.9), (2001.47, 30.0), (2001.53, 31.0), (2001.61, 37.1),
       (2001.67, 41.7), (2001.73, 39.2), (2001.80, 38.5), (2001.85, 34.2), (2001.89, 31.7),
       (2001.94, 31.4), (2001.98, 28.2), (2002.03, 25.0), (2002.07, 27.8), (2002.13, 30.3),
       (2002.19, 27.8), (2002.25, 26.4), (2002.31, 24.6), (2002.40, 25.3), (2002.49, 23.6),
       (2002.58, 23.9), (2002.66, 25.0), (2002.73, 26.4), (2002.82, 22.8), (2002.91, 25.0),
       (2003.00, 24.3), (2003.09, 26.8), (2003.16, 23.6), (2003.24, 23.2), (2003.33, 23.9),
       (2003.42, 22.1), (2003.51, 21.8), (2003.60, 21.8), (2003.69, 21.4), (2003.78, 22.1),
       (2003.90, 21.1), (2004.02, 22.5), (2004.11, 21.1), (2004.23, 22.8), (2004.32, 24.3),
       (2004.41, 23.9), (2004.51, 25.5), (2004.58, 24.6), (2004.65, 26.8), (2004.72, 23.2),
       (2004.81, 24.3), (2004.90, 23.6), (2004.99, 25.0), (2005.07, 26.0), (2005.14, 25.0),
       (2005.23, 25.3), (2005.32, 23.9), (2005.44, 22.8), (2005.53, 24.6), (2005.62, 22.1),
       (2005.74, 23.6), (2005.83, 22.5), (2005.92, 24.3), (2006.01, 21.4), (2006.10, 23.9),
       (2006.19, 25.7), (2006.28, 25.0), (2006.37, 22.8), (2006.46, 23.9), (2006.55, 22.8),
       (2006.64, 23.9), (2006.73, 27.5), (2006.79, 24.3), (2006.85, 20.7), (2006.96, 20.3),
       (2007.06, 21.1), (2007.15, 22.8), (2007.24, 21.4), (2007.30, 20.0), (2007.39, 21.8),
       (2007.45, 20.3), (2007.54, 18.9), (2007.63, 21.1), (2007.69, 24.3), (2007.75, 22.1),
       (2007.81, 20.3), (2007.90, 20.7), (2008.00, 20.7)]

SERIES_NAMES = ["IGF", "CO1", "EM1", "ES1", "GF1", "MI1", "NG1", "PD1", "SI1", "JP1", "UL1"]
SERIES_DATA = [IGF, CO1, EM1, ES1, GF1, MI1, NG1, PD1, SI1, JP1, UL1]
X_START, X_STOP = 1994, 2008
Y_START, Y_STOP = 0, 100
YLABEL = "Weighted RMS [mm]"

# ---------------- styles ----------------
STYLE = {
    "IGF": dict(color="#4B0082", marker="hex", filled=True, lw=13, size=14, gw=45),
    "CO1": dict(color="#FF0000", marker="diamond", filled=False, lw=4.3, size=21, gw=50),
    "EM1": dict(color="#006400", marker="triangle", filled=False, lw=4.3, size=20, gw=50),
    "ES1": dict(color="#FF00FF", marker="triangle", filled=False, lw=4.3, size=20, gw=50),
    "GF1": dict(color="#40E0D0", marker="circle", filled=False, lw=4.3, size=14, gw=35),
    "MI1": dict(color="#800000", marker="hex", filled=False, lw=4.3, size=17, gw=45),
    "NG1": dict(color="#4169E1", marker="circle", filled=False, lw=4.3, size=14, gw=35),
    "PD1": dict(color="#000080", marker="square", filled=False, lw=4.3, size=13, gw=33),
    "SI1": dict(color="#FF8C00", marker="diamond", filled=False, lw=4.3, size=21, gw=50),
    "JP1": dict(color="#CD5C5C", marker="square", filled=False, lw=4.3, size=13, gw=33),
    "UL1": dict(color="#00FF00", marker="triangle", filled=False, lw=4.3, size=20, gw=50),
}

FONT = "Liberation Sans"
W, H = 1749, 1015
BOX_L, BOX_R, BOX_T, BOX_B = 148, 1707, 22, 960
px_per_x = (BOX_R - BOX_L) / (X_STOP - X_START)
px_per_y = (BOX_B - BOX_T) / (Y_STOP - Y_START)
x_end = X_STOP + (W - BOX_R) / px_per_x      # frame reaches the canvas right edge
y_end = Y_STOP + BOX_T / px_per_y            # frame reaches the canvas top edge

p = figure(width=W, height=H, x_range=Range1d(X_START, x_end), y_range=Range1d(Y_START, y_end),
           output_backend="svg", toolbar_location=None,
           min_border_left=BOX_L, min_border_right=0, min_border_top=0,
           min_border_bottom=H - BOX_B,
           background_fill_color="#FFFDE1", border_fill_color="white")
p.outline_line_color = None

def style_axis(ax, labels=True, size="36px"):
    ax.axis_line_width = 3
    ax.axis_line_color = "black"
    ax.major_tick_line_width = 1.5
    ax.minor_tick_line_width = 1.5
    ax.major_tick_out = 12
    ax.major_tick_in = 0
    ax.minor_tick_out = 6
    ax.minor_tick_in = 0
    ax.major_label_text_font = FONT
    ax.major_label_text_font_style = "bold"
    ax.major_label_text_font_size = size
    ax.major_label_text_color = "black" if labels else None

for ax in p.xaxis:
    ax.ticker = SingleIntervalTicker(interval=2, num_minor_ticks=2)
    ax.bounds = (X_START, X_STOP)
    style_axis(ax, size="34px")
    ax.major_label_text_line_height = 0.8
    ax.major_label_standoff = 10
for ax in p.yaxis:
    ax.ticker = SingleIntervalTicker(interval=10, num_minor_ticks=2)
    ax.bounds = (Y_START, Y_STOP)
    style_axis(ax)
    ax.major_label_standoff = 6

# empty spacer axis between the y axis and its title (pushes the title outward)
spacer = LinearAxis(ticker=FixedTicker(ticks=[]), major_tick_out=19, major_tick_in=0,
                    minor_tick_out=0, minor_tick_in=0, major_label_standoff=0,
                    axis_line_color=None, major_tick_line_color=None,
                    minor_tick_line_color=None, major_label_text_color=None)
p.add_layout(spacer, "left")

# y-axis title as a side Title, so it can be centred on the 0..100 box
ytitle = Title(text=YLABEL, align="left", vertical_align="top",
               offset=BOX_B - 650, standoff=10,
               text_font=FONT, text_font_size="33px", text_font_style="bold",
               text_color="black")
p.add_layout(ytitle, "left")

top_ax = LinearAxis(ticker=SingleIntervalTicker(interval=2, num_minor_ticks=2),
                    fixed_location=Y_STOP, bounds=(X_START, X_STOP))
style_axis(top_ax, labels=False)
p.add_layout(top_ax, "above")
right_ax = LinearAxis(ticker=SingleIntervalTicker(interval=10, num_minor_ticks=2),
                      fixed_location=X_STOP, bounds=(Y_START, Y_STOP))
style_axis(right_ax, labels=False)
p.add_layout(right_ax, "right")

p.xgrid.ticker = SingleIntervalTicker(interval=1)
p.xgrid.grid_line_color = "#6E6E6E"
p.xgrid.grid_line_width = 1.3
p.ygrid.ticker = FixedTicker(ticks=[20, 50])
p.ygrid.grid_line_color = "#3A3A3A"
p.ygrid.grid_line_width = 1.2

legend_renderers = {}
for name, data in zip(SERIES_NAMES, SERIES_DATA):
    st = STYLE[name]
    xs = [d[0] for d in data]
    ys = [d[1] for d in data]
    p.line(xs, ys, line_color=st["color"], line_width=st["lw"], line_join="round")
    fill = st["color"] if st["filled"] else None
    p.scatter(xs[::5], ys[::5], marker=st["marker"], size=st["size"],
              line_color=st["color"], line_width=1.1, fill_color=fill)
    legend_renderers[name] = p.scatter(xs[:1], ys[:1], marker=st["marker"], size=st["size"],
                                       line_color=st["color"], line_width=2, fill_color=fill)

# white masks outside the data box
p.quad(left=[X_START], right=[x_end], bottom=[Y_STOP], top=[y_end], fill_color="white", line_color=None)
p.quad(left=[X_STOP], right=[x_end], bottom=[Y_START], top=[y_end], fill_color="white", line_color=None)

# ---------------- legend ----------------
LG_L, LG_T, LG_B = 1615, 8, 537
box_dummy = p.scatter(x=[], y=[], alpha=0)

def box_legend(dx, dy, fill, border):
    lg = Legend(items=[LegendItem(label=" ", renderers=[box_dummy])],
                location=(LG_L - BOX_L + dx, BOX_B - LG_B + dy),
                padding=0, margin=0, spacing=0,
                glyph_width=W - LG_L + 10, glyph_height=LG_B - LG_T,
                label_width=0, label_height=0, label_standoff=0,
                label_text_font_size="1px",
                background_fill_color=fill, background_fill_alpha=1.0)
    if border:
        lg.border_line_color = "#1E1E78"
        lg.border_line_width = 2
    else:
        lg.border_line_alpha = 0
    return lg

p.add_layout(box_legend(5, 5, "#1E1E78", False))
p.add_layout(box_legend(0, 0, "#FFF8D6", True))

ITEM_H = 50
MARK_X, LABEL_X = 1636, 1660
for i, name in enumerate(SERIES_NAMES):
    st = STYLE[name]
    gw = st["gw"]
    yc = 50 + 42.6 * i
    lg = Legend(items=[LegendItem(label=name, renderers=[legend_renderers[name]])],
                location=(MARK_X - gw / 2 - BOX_L, BOX_B - (yc + ITEM_H / 2)),
                padding=0, margin=0, spacing=0,
                glyph_width=gw, glyph_height=ITEM_H, label_height=ITEM_H,
                label_standoff=int(max(0, round(LABEL_X - MARK_X - gw / 2))),
                label_text_font=FONT, label_text_font_size="32px",
                label_text_font_style="bold", label_text_color=st["color"],
                background_fill_alpha=0, border_line_alpha=0)
    p.add_layout(lg)

open("out.html", "w").write(file_html(p, INLINE))
